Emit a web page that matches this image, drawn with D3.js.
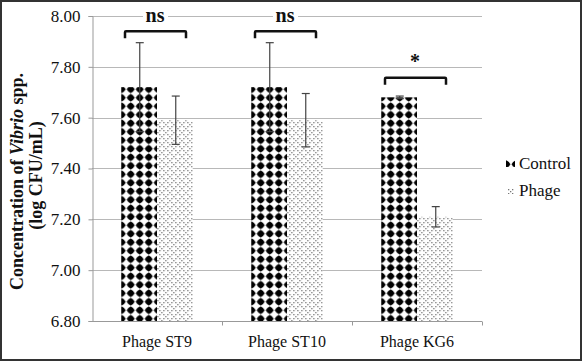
<!DOCTYPE html>
<html>
<head>
<meta charset="utf-8">
<script src="https://cdn.jsdelivr.net/npm/d3@7"></script>
<style>
  body { margin: 0; background: #fff; }
  svg { display: block; }
  svg text { font-family: "Liberation Serif", "Times New Roman", serif; }
</style>
</head>
<body>
<svg id="chart" width="582" height="361"></svg>
<script>
// chart data
const categories = ["Phage ST9", "Phage ST10", "Phage KG6"];
const seriesNames = ["Control", "Phage"];
const controlValues = [7.72, 7.72, 7.68];
const phageValues = [7.59, 7.59, 7.21];
const controlErrors = [0.175, 0.175, 0.005];
const phageErrors = [0.095, 0.105, 0.04];
const sigLabels = ["ns", "ns", "*"];
const bracketLevels = [7.94, 7.94, 7.757];
const sigLabelLevels = [8.0, 8.0, 7.83];
const yTicks = [6.8, 7.0, 7.2, 7.4, 7.6, 7.8, 8.0];

const width = 582, height = 361;
const margin = {left: 92, right: 100, top: 16, bottom: 40};
const serif = "Liberation Serif, Times New Roman, serif";

const svg = d3.select("#chart");

// patterns
const defs = svg.append("defs");
const pCtrl = defs.append("pattern")
    .attr("id", "pat-control")
    .attr("patternUnits", "userSpaceOnUse")
    .attr("width", 9).attr("height", 8.5)
    .attr("x", 122).attr("y", 0);
pCtrl.append("rect").attr("width", 9).attr("height", 8.5).attr("fill", "#fff");
pCtrl.append("path")
    .attr("d", "M4.5,0.3 L8.6,4.25 L4.5,8.2 L0.4,4.25 Z")
    .attr("fill", "#000");
pCtrl.append("circle").attr("cx", 4.5).attr("cy", 4.25).attr("r", 3.1).attr("fill", "#000");

const pPhage = defs.append("pattern")
    .attr("id", "pat-phage")
    .attr("patternUnits", "userSpaceOnUse")
    .attr("width", 8).attr("height", 8);
pPhage.append("rect").attr("width", 8).attr("height", 8).attr("fill", "#fff");
[[0,0],[2,2],[4,4],[6,6],[6,2],[2,6]].forEach(([x, y]) => {
    pPhage.append("rect").attr("x", x).attr("y", y).attr("width", 1.3).attr("height", 1.3).attr("fill", "#777");
});

// frame
svg.append("rect")
    .attr("x", 1).attr("y", 1)
    .attr("width", width - 2).attr("height", height - 2)
    .attr("fill", "none")
    .attr("stroke", "#333")
    .attr("stroke-width", 2);

const x = d3.scaleBand()
    .domain(categories)
    .range([margin.left, width - margin.right])
    .paddingInner(0.45)
    .paddingOuter(0.225);

const xInner = d3.scaleBand()
    .domain(seriesNames)
    .range([0, x.bandwidth()]);

const y = d3.scaleLinear()
    .domain([6.8, 8.0])
    .range([height - margin.bottom, margin.top]);

// gridlines
svg.append("g")
    .selectAll("line")
    .data(yTicks.slice(1))
    .enter()
    .append("line")
    .attr("x1", margin.left)
    .attr("x2", width - margin.right)
    .attr("y1", d => Math.round(y(d)) + 0.5)
    .attr("y2", d => Math.round(y(d)) + 0.5)
    .attr("stroke", "#b8b8b8")
    .attr("stroke-width", 1);

// y axis
const yAxis = svg.append("g")
    .attr("transform", `translate(${margin.left + 0.5},0)`)
    .call(d3.axisLeft(y).tickValues(yTicks).tickFormat(d3.format(".2f")).tickSize(4).tickPadding(8));
yAxis.attr("font-family", serif).attr("font-size", 17);
yAxis.select(".domain").attr("stroke", "#999");
yAxis.selectAll(".tick line").attr("stroke", "#999");
yAxis.selectAll(".tick text").attr("fill", "#111");

// x axis
const step = x.step();
const xAxisG = svg.append("g")
    .attr("transform", `translate(0,${Math.round(y(6.8)) + 0.5})`);
xAxisG.append("line")
    .attr("x1", margin.left).attr("x2", width - margin.right)
    .attr("stroke", "#999");
xAxisG.selectAll(".xtick")
    .data(categories)
    .enter()
    .append("line")
    .attr("class", "xtick")
    .attr("x1", d => Math.round(x(d) + x.bandwidth() + x.paddingInner() * step / 2) + 0.5)
    .attr("x2", d => Math.round(x(d) + x.bandwidth() + x.paddingInner() * step / 2) + 0.5)
    .attr("y1", 0).attr("y2", 4)
    .attr("stroke", "#999");
xAxisG.selectAll(".xlabel")
    .data(categories)
    .enter()
    .append("text")
    .attr("class", "xlabel")
    .attr("x", d => x(d) + x.bandwidth() / 2)
    .attr("y", 25)
    .attr("text-anchor", "middle")
    .attr("font-family", serif)
    .attr("font-size", 16)
    .attr("fill", "#111")
    .text(d => d);

// bars
const rows = categories.map((c, i) => ({
    cat: c,
    bars: [
        {name: "Control", value: controlValues[i], err: controlErrors[i]},
        {name: "Phage", value: phageValues[i], err: phageErrors[i]}
    ]
}));

const groups = svg.append("g")
    .selectAll("g")
    .data(rows)
    .enter()
    .append("g")
    .attr("transform", d => `translate(${x(d.cat)},0)`);

groups.selectAll("rect")
    .data(d => d.bars)
    .enter()
    .append("rect")
    .attr("x", d => xInner(d.name))
    .attr("y", d => y(d.value))
    .attr("width", xInner.bandwidth())
    .attr("height", d => y(6.8) - y(d.value))
    .attr("fill", d => d.name === "Control" ? "url(#pat-control)" : "url(#pat-phage)");

// error bars
const eb = groups.selectAll(".err")
    .data(d => d.bars)
    .enter()
    .append("g")
    .attr("class", "err")
    .attr("transform", d => `translate(${Math.round(xInner(d.name) + xInner.bandwidth() / 2) + 0.5},0)`)
    .attr("stroke", "#444")
    .attr("stroke-width", 1.2);
eb.append("line")
    .attr("y1", d => y(d.value + d.err))
    .attr("y2", d => y(d.value - d.err));
eb.append("line")
    .attr("x1", -4).attr("x2", 4)
    .attr("y1", d => y(d.value + d.err))
    .attr("y2", d => y(d.value + d.err));
eb.append("line")
    .attr("x1", -4).attr("x2", 4)
    .attr("y1", d => y(d.value - d.err))
    .attr("y2", d => y(d.value - d.err));

// significance brackets
const sig = svg.append("g")
    .selectAll("g")
    .data(categories)
    .enter()
    .append("g")
    .attr("transform", d => `translate(${x(d) + x.bandwidth() / 2},0)`);
sig.append("path")
    .attr("d", (d, i) => {
        const yb = y(bracketLevels[i]);
        return `M-32,${yb + 7} L-32,${yb + 1} Q-32,${yb} -31,${yb} L28,${yb} Q29,${yb} 29,${yb + 1} L29,${yb + 7}`;
    })
    .attr("fill", "none")
    .attr("stroke", "#111")
    .attr("stroke-width", 2.5);
sig.append("rect")
    .attr("x", (d, i) => sigLabels[i] === "ns" ? -14 : -6)
    .attr("y", (d, i) => y(sigLabelLevels[i]) - 8)
    .attr("width", (d, i) => sigLabels[i] === "ns" ? 25 : 12)
    .attr("height", 14)
    .attr("fill", (d, i) => sigLabels[i] === "ns" ? "#fff" : "none");
sig.append("text")
    .attr("x", -2)
    .attr("y", (d, i) => y(sigLabelLevels[i]) + (sigLabels[i] === "ns" ? 6 : 9))
    .attr("text-anchor", "middle")
    .attr("font-family", serif)
    .attr("font-size", 20)
    .attr("font-weight", "bold")
    .attr("fill", "#111")
    .text((d, i) => sigLabels[i]);

// y axis title
const midY = (y(6.8) + y(8.0)) / 2;
const title = svg.append("text")
    .attr("transform", `translate(23,${midY + 13}) rotate(-90)`)
    .attr("text-anchor", "middle")
    .attr("font-family", serif)
    .attr("font-size", 18)
    .attr("font-weight", "bold")
    .attr("fill", "#111");
title.append("tspan").attr("x", 0).attr("y", 0).text("Concentration of ");
title.append("tspan").attr("font-style", "italic").text("Vibrio");
title.append("tspan").text(" spp.");
svg.append("text")
    .attr("transform", `translate(42,${midY + 7}) rotate(-90)`)
    .attr("text-anchor", "middle")
    .attr("font-family", serif)
    .attr("font-size", 18)
    .attr("font-weight", "bold")
    .attr("fill", "#111")
    .text("(log CFU/mL)");

// legend
const legend = svg.append("g")
    .selectAll("g")
    .data(seriesNames)
    .enter()
    .append("g")
    .attr("transform", (d, i) => `translate(506,${160 + i * 27})`);
legend.append("rect")
    .attr("x", (d, i) => i === 0 ? 0 : 2)
    .attr("y", 0)
    .attr("width", (d, i) => i === 0 ? 9 : 6)
    .attr("height", 7)
    .attr("fill", (d, i) => i === 0 ? "url(#pat-control)" : "url(#pat-phage)");
legend.append("text")
    .attr("x", 13)
    .attr("y", 9)
    .attr("font-family", serif)
    .attr("font-size", 17)
    .attr("fill", "#111")
    .text(d => d);
</script>
</body>
</html>
